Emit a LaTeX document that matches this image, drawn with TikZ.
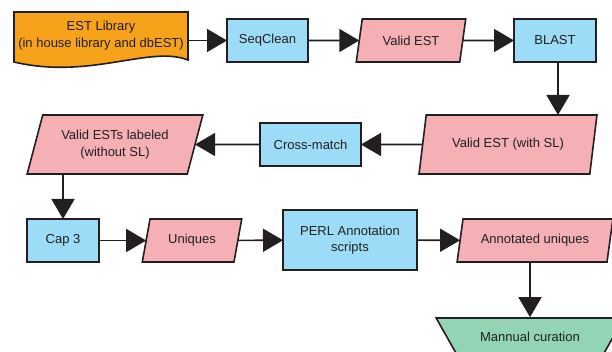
\documentclass[tikz,border=0pt]{standalone}
\usepackage{fontspec}
\setmainfont{Liberation Sans}
\usepackage{tikz}
\usetikzlibrary{arrows.meta, shapes.geometric}
\definecolor{inkgray}{HTML}{231F20}
\definecolor{docorange}{HTML}{F6A31B}
\definecolor{procblue}{HTML}{9DDCF6}
\definecolor{datapink}{HTML}{F5B0B5}
\definecolor{curegreen}{HTML}{93D4B5}
\tikzset{
	every picture/.style={line width=1.6pt},
	font = \fontsize{13}{16.5}\selectfont,
	every node/.style={text=inkgray},
	process/.style={
		draw=inkgray,
		fill=procblue,
		rectangle,
		align=center,
		inner sep=0pt,
		outer sep=0pt
	},
	data/.style={
		draw=inkgray,
		fill=datapink,
		trapezium,
		trapezium stretches=true,
		trapezium left angle=70,
		trapezium right angle=110,
		align=center,
		inner sep=0pt,
		outer sep=0pt
	},
	edge/.style={
		draw=inkgray,
		-{Triangle[length=20pt,width=23pt]}
	}
}

\begin{document}
\begin{tikzpicture}[x=1pt, y=-1pt, line width=1.6pt]
\useasboundingbox (0,0) rectangle (612,352);
\clip (0,0) rectangle (612,352);

% ---
% Boxes
% ---
\node[align=center, minimum width=174pt, minimum height=51pt, inner sep=0pt, outer sep=0pt] (lib) at (101,37.5) {};
\filldraw[draw=inkgray, fill=docorange] (lib.north west) -- (lib.north east) -- (188,60)
	.. controls (150,45) and (90,80) .. (14,62) -- cycle;
\node[align=center] at (101,35.5) {EST Library\\(in house library and dbEST)};

\node[process, minimum width=81pt, minimum height=43pt] (seqclean) at (267.5,40.5) {SeqClean};
\node[data, minimum width=110pt, minimum height=43pt] (validest) at (411,40.5) {Valid EST};
\node[process, minimum width=82pt, minimum height=43pt] (blast) at (555,40.5) {BLAST};

\node[data, trapezium left angle=68, trapezium right angle=112, minimum width=178pt, minimum height=59pt] (withsl) at (508,144.5) {Valid EST (with SL)};
\node[process, minimum width=101pt, minimum height=43pt] (crossmatch) at (310.5,144.5) {Cross-match};
\node[data, trapezium left angle=68, trapezium right angle=112, minimum width=176pt, minimum height=59pt] (labeled) at (115,144.5) {Valid ESTs labeled\\(without SL)};

\node[process, minimum width=72pt, minimum height=43pt] (cap3) at (63,240.5) {Cap 3};
\node[data, minimum width=100pt, minimum height=43pt] (uniques) at (192,240.5) {Uniques};
\node[process, minimum width=134pt, minimum height=60pt] (perl) at (350,240) {PERL Annotation\\scripts};
\node[data, minimum width=156pt, minimum height=43pt] (annotated) at (535,240.5) {Annotated uniques};

\node[draw=inkgray, fill=curegreen, trapezium, trapezium stretches=true, trapezium angle=45, shape border rotate=180, minimum width=188pt, minimum height=40pt, inner sep=2pt] (curation) at (530,338) {\raisebox{3pt}{Mannual curation}};

% ---
% Arrows
% ---
\draw[edge] (lib.east |- seqclean) -- (seqclean);
\draw[edge] (seqclean) -- (validest);
\draw[edge] (validest) -- (blast);
\draw[edge] ([xshift=3pt]blast.south) -- ([xshift=3pt]blast.south |- withsl.north);
\draw[edge] (withsl) -- (crossmatch);
\draw[edge] (crossmatch) -- (labeled);
\draw[edge] (cap3.north |- labeled.south) -- (cap3.north);
\draw[edge] (cap3) -- (uniques);
\draw[edge] (uniques) -- (perl);
\draw[edge] (perl) -- (annotated);
\draw[edge] (curation.north |- annotated.south) -- (curation.north);
\end{tikzpicture}
\end{document}
